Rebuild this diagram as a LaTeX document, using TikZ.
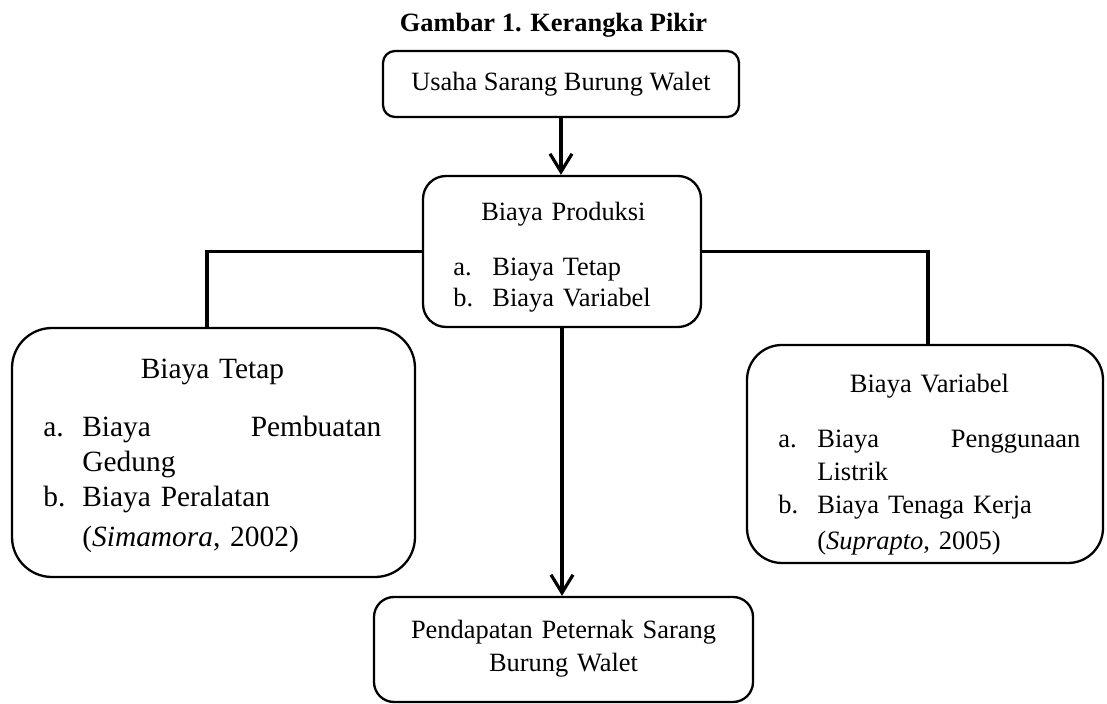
\documentclass[tikz,border=0pt]{standalone}
\usepackage{fontspec}
\setmainfont{Liberation Serif}
\usetikzlibrary{arrows.meta}

\newcommand{\lbl}[1]{\makebox[19.5pt][l]{#1}}
\newcommand{\ind}{\hspace*{19.5pt}}

\begin{document}
\begin{tikzpicture}[x=0.5pt,y=-0.5pt,
                    box/.style={draw,line width=1.15pt,inner sep=0pt},
                    txt/.style={inner sep=0pt,font=\fontsize{13.2}{15.5}\selectfont},
                    list/.style={txt,anchor=base west,align=left},
                    link/.style={line width=1.6pt},
                    arr/.style={link,-{Straight Barb[length=9pt,width=11pt,line width=1.6pt]}}
]
\useasboundingbox (0,0) rectangle (1107,704);

\node [txt,anchor=base,font=\bfseries\fontsize{13.2}{15.5}\selectfont] (title) at (553.5,32) {Gambar 1. Kerangka Pikir};

% kotak
\node [box,rounded corners=6pt,minimum width=178pt,minimum height=33pt] (usaha) at (561,84) {};
\node [box,rounded corners=11.5pt,minimum width=139pt,minimum height=75.5pt] (produksi) at (562,251.5) {};
\node [box,rounded corners=20pt,minimum width=201.5pt,minimum height=124.5pt] (tetap) at (213.5,452.5) {};
\node [box,rounded corners=17.5pt,minimum width=178pt,minimum height=109pt] (variabel) at (925,454) {};
\node [box,rounded corners=10pt,minimum width=189.5pt,minimum height=52.5pt] (pendapatan) at (563.5,649.5) {};

% teks
\node [txt,anchor=base] (usahaT) at (561,91) {Usaha Sarang Burung Walet};
\node [list,text width=110pt] (produksiT) at (453,221)
  {\hfill Biaya Produksi\hfill\null\\[12pt]
   \lbl{a.}Biaya Tetap\\
   \lbl{b.}Biaya Variabel};
\node [list,text width=169pt,font=\fontsize{14.7}{17.5}\selectfont] (tetapT) at (43,379)
  {\hfill Biaya Tetap\hfill\null\\[11.5pt]
   \lbl{a.}Biaya\hfill Pembuatan\\
   \ind Gedung\\
   \lbl{b.}Biaya Peralatan\\[2.5pt]
   \ind(\textit{Simamora}, 2002)};
\node [list,text width=151pt,font=\fontsize{13.25}{16.5}\selectfont] (variabelT) at (778,393)
  {\hfill Biaya Variabel\hfill\null\\[11pt]
   \lbl{a.}Biaya\hfill Penggunaan\\
   \ind Listrik\\
   \lbl{b.}Biaya Tenaga Kerja\\[1.5pt]
   \ind(\textit{Suprapto}, 2005)};
\node [txt,anchor=base,text width=189pt,align=center,font=\fontsize{13.2}{17}\selectfont] (pendapatanT) at (563.5,638)
  {Pendapatan Peternak Sarang\\ Burung Walet};

% garis
\draw [arr] (usaha.south) -- (usaha.south |- produksi.north);
\draw [link] (produksi.west) -| ([xshift=-3.25pt]tetap.north);
\draw [link] (produksi.east) -| ([xshift=1.5pt]variabel.north);
\draw [arr] (produksi.south) -- (produksi.south |- pendapatan.north);
\end{tikzpicture}
\end{document}
